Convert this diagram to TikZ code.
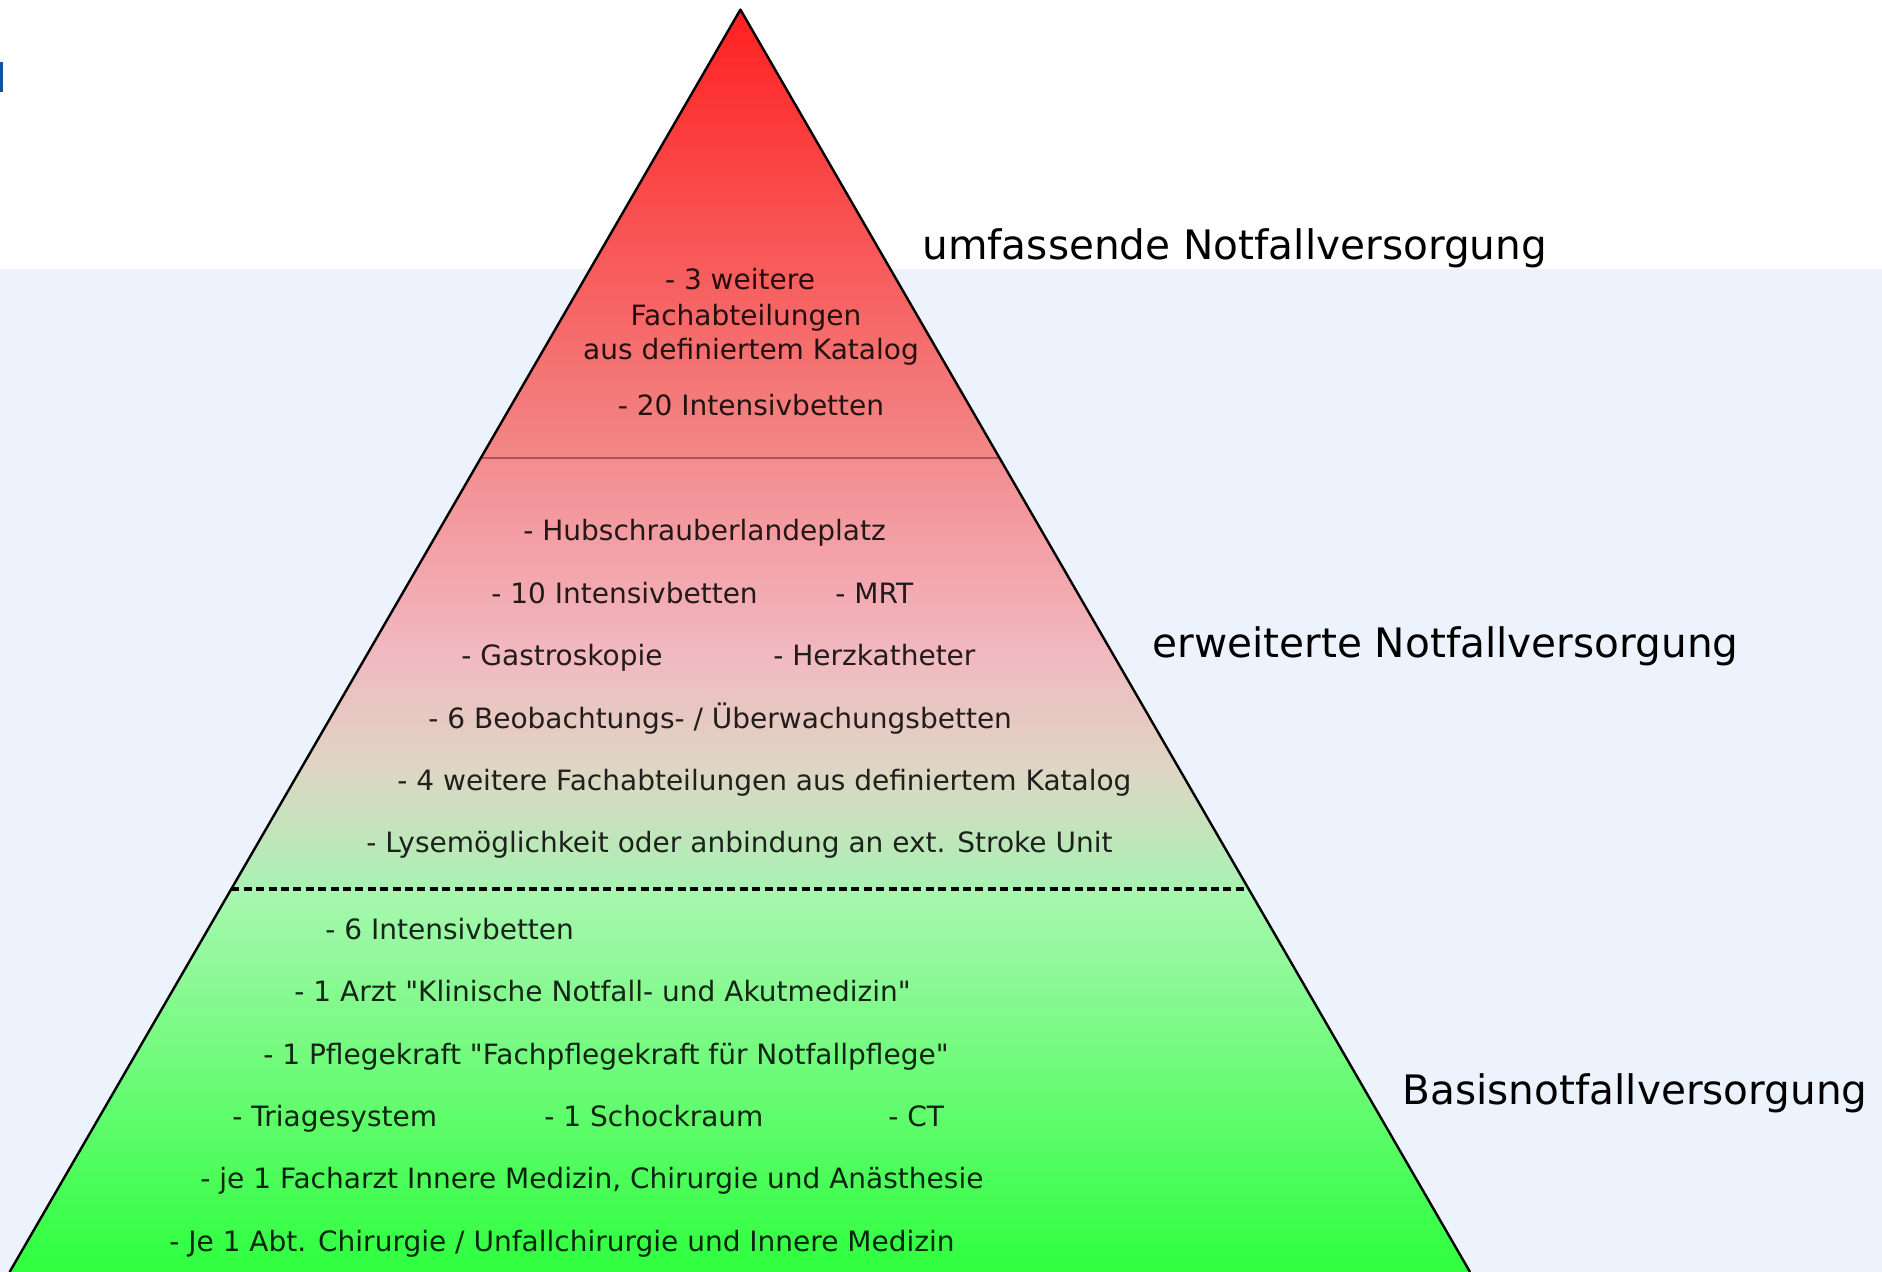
\documentclass[tikz,border=0pt]{standalone}
\usepackage{fontspec}
\setmainfont{DejaVu Sans}[Ligatures=TeXOff]
\usetikzlibrary{calc}
\definecolor{bgblue}{RGB}{237,243,252}
\definecolor{markblue}{RGB}{20,80,160}
\definecolor{sepred}{RGB}{175,85,85}
\definecolor{cA}{RGB}{255,32,32}
\definecolor{cB}{RGB}{242,136,136}
\definecolor{cC}{RGB}{243,140,144}
\definecolor{cD}{RGB}{242,184,192}
\definecolor{cE}{RGB}{222,214,196}
\definecolor{cF}{RGB}{168,242,178}
\definecolor{cG}{RGB}{168,247,176}
\definecolor{cH}{RGB}{46,255,62}
\tikzset{
  item/.style={anchor=west, inner sep=0pt, font=\fontsize{14}{17}\selectfont, text=black, text opacity=0.85, text height=0.75em, text depth=0.2em},
  citem/.style={item, anchor=center},
  level/.style={anchor=west, inner sep=0pt, font=\fontsize{20.3}{24}\selectfont, text=black, text height=0.75em, text depth=0.2em},
  outline/.style={draw=black, line width=1.2pt, line join=round},
}
\begin{document}
\begin{tikzpicture}[x=0.5pt,y=-0.5pt]
\useasboundingbox (0,0) rectangle (1882,1272);
\fill[white] (0,0) rectangle (1882,269);
\fill[bgblue] (0,269) rectangle (1882,1272);
\fill[markblue] (0,62) rectangle (3,92);
\coordinate (apex) at (740.4,9.6);
\coordinate (bl) at (9.6,1272);
\coordinate (br) at (1470,1272);
\coordinate (s1l) at ($(apex)!0.3552!(bl)$);
\coordinate (s1r) at ($(apex)!0.3552!(br)$);
\coordinate (s2l) at ($(apex)!0.6966!(bl)$);
\coordinate (s2r) at ($(apex)!0.6966!(br)$);
\begin{scope}
\clip (apex) -- (bl) -- (br) -- cycle;
\fill[top color=cA, bottom color=cB] (0,9) rectangle (1882,459);
\fill[top color=cC, bottom color=cD] (0,458) rectangle (1882,651);
\fill[top color=cD, bottom color=cF, middle color=cE] (0,650) rectangle (1882,890);
\fill[top color=cG, bottom color=cH] (0,889) rectangle (1882,1272);
\end{scope}
\draw[sepred, line width=0.6pt] (s1l) -- (s1r);
\draw[black, line width=1.8pt, dash pattern=on 4pt off 2.2pt] (s2l) -- (s2r);
\draw[outline] (bl) -- (apex) -- (br);
% top section
\node[citem] (t1) at (740,284) {- 3 weitere};
\node[citem] (t2) at (746,320) {Fachabteilungen};
\node[citem] (t3) at (751,354) {aus definiertem Katalog};
\node[citem] (t4) at (751,410) {- 20 Intensivbetten};
% middle section
\node[item] (m1) at (523,535) {- Hubschrauberlandeplatz};
\node[item] (m2) at (491,598) {- 10 Intensivbetten};
\node[item] (m3) at (835,598) {- MRT};
\node[item] (m4) at (461,660) {- Gastroskopie};
\node[item] (m5) at (773,660) {- Herzkatheter};
\node[item] (m6) at (428,723) {- 6 Beobachtungs- / Überwachungsbetten};
\node[item] (m7) at (397,785) {- 4 weitere Fachabteilungen aus definiertem Katalog};
\node[item] (m8) at (366,847) {- Lysemöglichkeit oder anbindung an ext. Stroke Unit};
% bottom section
\node[item] (b1) at (325,934) {- 6 Intensivbetten};
\node[item] (b2) at (294,996) {- 1 Arzt "Klinische Notfall- und Akutmedizin"};
\node[item] (b3) at (263,1059) {- 1 Pflegekraft "Fachpflegekraft für Notfallpflege"};
\node[item] (b4) at (232,1121) {- Triagesystem};
\node[item] (b5) at (544,1121) {- 1 Schockraum};
\node[item] (b6) at (888,1121) {- CT};
\node[item] (b7) at (200,1183) {- je 1 Facharzt Innere Medizin, Chirurgie und Anästhesie};
\node[item] (b8) at (169,1246) {- Je 1 Abt. Chirurgie / Unfallchirurgie und Innere Medizin};
% level labels
\node[level] (l1) at (922,254) {umfassende Notfallversorgung};
\node[level] (l2) at (1152,652) {erweiterte Notfallversorgung};
\node[level] (l3) at (1402,1099) {Basisnotfallversorgung};
\end{tikzpicture}
\end{document}
